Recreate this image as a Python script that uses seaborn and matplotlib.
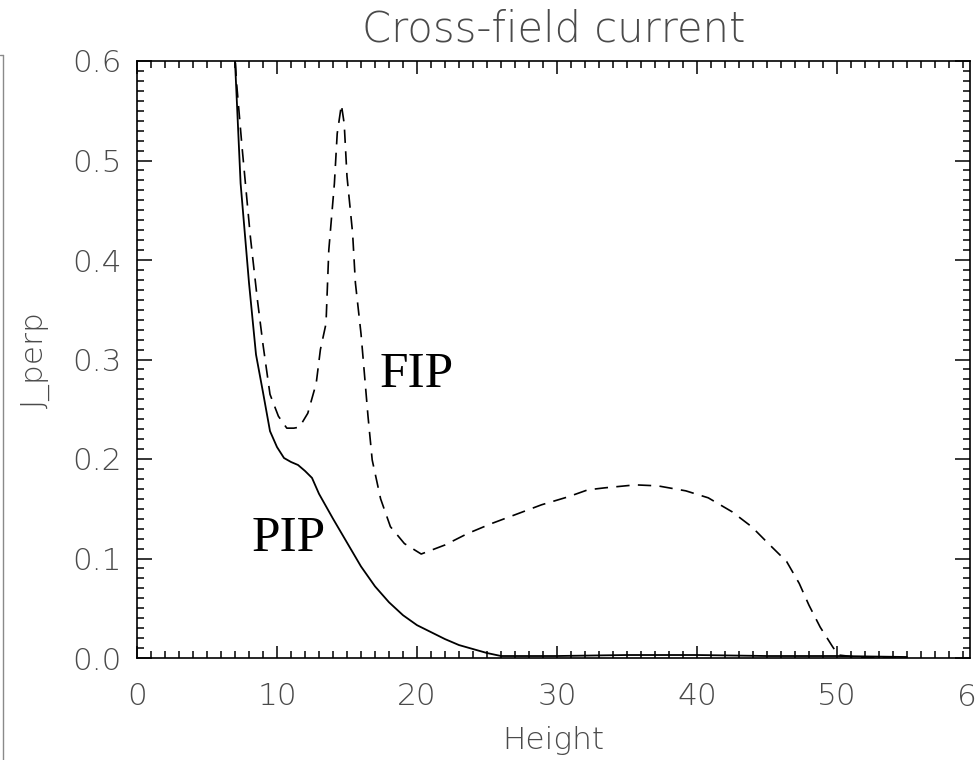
import numpy as np
import pandas as pd
import seaborn as sns
import matplotlib
matplotlib.use("Agg")
import matplotlib.pyplot as plt
from matplotlib.lines import Line2D
from matplotlib.ticker import MultipleLocator
import matplotlib.transforms as mtransforms

# Partially ionised plasma (PIP) cross-field current profile
pip_height = [6.9, 7.0, 7.4, 8.0, 8.5, 9.0, 9.5, 10.0, 10.5, 11.0, 11.5, 12.0,
              12.5, 13.0, 14.0, 15.0, 16.0, 17.0, 18.0, 19.0, 20.0, 21.0, 22.0,
              23.0, 24.0, 25.0, 26.0, 30.0, 35.0, 40.0, 45.0, 50.0, 55.0]
pip_j = [0.62, 0.60, 0.477, 0.377, 0.305, 0.267, 0.228, 0.212, 0.201, 0.197,
         0.194, 0.188, 0.181, 0.165, 0.140, 0.116, 0.092, 0.072, 0.056, 0.043,
         0.033, 0.026, 0.019, 0.013, 0.009, 0.005, 0.002, 0.002, 0.003, 0.003,
         0.002, 0.002, 0.001]

# Fully ionised plasma (FIP) cross-field current profile
fip_height = [6.95, 7.1, 7.5, 8.1, 8.6, 9.0, 9.5, 10.1, 10.7, 11.2, 11.6, 12.2,
              12.8, 13.1, 13.5, 13.7, 14.1, 14.3, 14.6, 14.8, 15.0, 15.4, 15.6,
              16.0, 16.2, 16.5, 16.8, 17.4, 18.1, 19.1, 20.3, 22.0, 23.6, 25.3,
              27.2, 28.9, 30.8, 32.2, 33.4, 35.6, 37.2, 39.2, 40.8, 42.5, 43.9,
              45.1, 46.4, 47.3, 48.0, 48.8, 49.7, 50.1, 52.0, 55.0]
fip_j = [0.62, 0.58, 0.514, 0.423, 0.36, 0.315, 0.265, 0.243, 0.231, 0.231,
         0.232, 0.246, 0.276, 0.31, 0.336, 0.41, 0.477, 0.527, 0.556, 0.537,
         0.484, 0.427, 0.377, 0.326, 0.293, 0.243, 0.199, 0.160, 0.132, 0.115,
         0.1045, 0.1136, 0.125, 0.135, 0.145, 0.154, 0.162, 0.169, 0.171, 0.174,
         0.173, 0.168, 0.161, 0.147, 0.132, 0.115, 0.097, 0.075, 0.053, 0.031,
         0.011, 0.003, 0.0, 0.0]

x_ticks = [0, 10, 20, 30, 40, 50]
y_ticks = [0.0, 0.1, 0.2, 0.3, 0.4, 0.5, 0.6]

sns.set_theme(style="white")
plt.rcParams["font.family"] = ["DejaVu Sans"]
text_color = "#4a4a4a"
label_font = dict(family="DejaVu Sans", weight="light", color=text_color)

W, H = 979, 760
fig = plt.figure(figsize=(W / 100, H / 100), dpi=100)
fig.patch.set_facecolor("white")
ax = fig.add_axes([137 / W, (H - 658) / H, (970 - 137) / W, (658 - 61) / H])

pip_df = pd.DataFrame({"Height": pip_height, "J_perp": pip_j})
fip_df = pd.DataFrame({"Height": fip_height, "J_perp": fip_j})

sns.lineplot(data=pip_df, x="Height", y="J_perp", ax=ax, color="black",
             lw=1.3, estimator=None, sort=False)
sns.lineplot(data=fip_df, x="Height", y="J_perp", ax=ax, color="black",
             lw=1.2, estimator=None, sort=False)
ax.lines[-1].set_dashes([8, 5])

ax.set_xlim(0, 59.5)
ax.set_ylim(0, 0.6)
ax.set_xticks(x_ticks)
ax.set_yticks(y_ticks)
ax.set_xticklabels([str(t) for t in x_ticks])
ax.set_yticklabels([f"{t:.1f}" for t in y_ticks])
ax.xaxis.set_minor_locator(MultipleLocator(1))
ax.yaxis.set_minor_locator(MultipleLocator(0.01))

for s in ax.spines.values():
    s.set_visible(True)
    s.set_color("black")
    s.set_linewidth(1.2)

ax.tick_params(axis="both", which="both", direction="in", top=True, right=True,
               bottom=True, left=True, color="black", width=1.1)
ax.tick_params(axis="x", which="major", length=9, pad=17)
ax.tick_params(axis="y", which="major", length=11, pad=11)
ax.tick_params(axis="both", which="minor", length=5)
ax.tick_params(axis="both", which="major", labelsize=22.5, labelcolor=text_color)
for lab in ax.get_xticklabels() + ax.get_yticklabels():
    lab.set_fontweight("light")

# the 60 label sits just beyond the right frame
trans = mtransforms.blended_transform_factory(ax.transData, ax.transAxes)
ax.text(60, -(683 - 658) / (658 - 61), "60", transform=trans, ha="center",
        va="top", fontsize=22.5, clip_on=False, **label_font)

ax.set_title("Cross-field current", fontsize=30, pad=14, **label_font)
ax.set_xlabel("Height", fontsize=22.5, **label_font)
ax.set_ylabel("J_perp", fontsize=22.5, **label_font)
ax.xaxis.set_label_coords(0.5, -(726 - 658) / (658 - 61))
ax.yaxis.set_label_coords(-(137 - 50) / (970 - 137), 0.5)

ax.text(20.0, 0.285, "FIP", fontsize=37, family="Liberation Serif",
        color="black", ha="center", va="center")
ax.text(10.8, 0.12, "PIP", fontsize=37, family="Liberation Serif",
        color="black", ha="center", va="center")

# thin frame edge on the left of the canvas
fig.add_artist(Line2D([3 / W, 3 / W], [0, (H - 55) / H], color="#8a8a8a", lw=1.0))
fig.add_artist(Line2D([0, 3 / W], [(H - 55) / H, (H - 55) / H], color="#8a8a8a", lw=1.0))

fig.savefig("out.png", dpi=100, facecolor="white")
